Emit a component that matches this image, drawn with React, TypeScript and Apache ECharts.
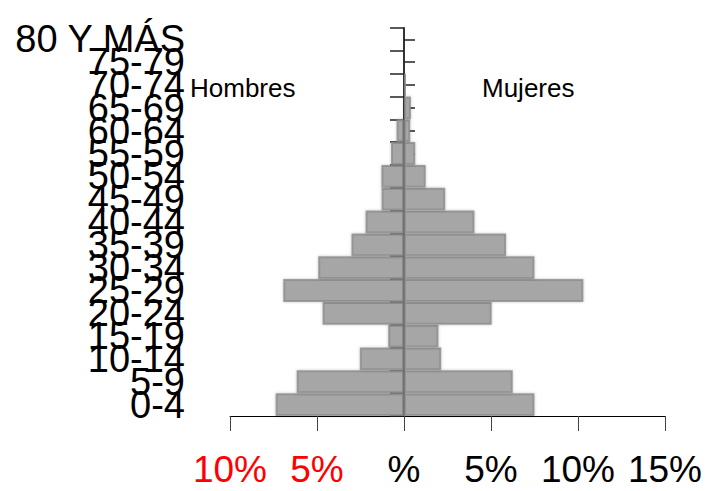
import React, { useEffect, useRef } from "react";
import * as echarts from "echarts";

const categories = [
  "0-4", "5-9", "10-14", "15-19", "20-24", "25-29", "30-34", "35-39", "40-44",
  "45-49", "50-54", "55-59", "60-64", "65-69", "70-74", "75-79", "80 Y MÁS",
];
const hombres = [7.38, 6.17, 2.54, 0.91, 4.68, 6.94, 4.93, 3.02, 2.21, 1.29, 1.3, 0.75, 0.43, 0.05, 0.05, 0.1, 0.03];
const mujeres = [7.5, 6.25, 2.14, 1.98, 5.04, 10.31, 7.5, 5.87, 4.05, 2.37, 1.25, 0.65, 0.36, 0.4, 0.14, 0.1, 0.05];
const xTicks = [-10, -5, 0, 5, 10, 15];

const FONT = "'Liberation Sans', Arial, sans-serif";

export default function App() {
  const ref = useRef<HTMLDivElement>(null);
  useEffect(() => {
    if (!ref.current) return;
    const chart = echarts.init(ref.current, undefined, { renderer: "svg" });
    const barStyle = {
      color: "#a6a6a6",
      borderColor: "rgba(140,140,140,0.8)",
      borderWidth: 2,
      shadowBlur: 3,
      shadowColor: "rgba(0,0,0,0.25)",
    };
    chart.setOption({
      animation: false,
      grid: {
        left: 230,
        right: 40,
        top: 28,
        bottom: 75,
        containLabel: false,
        outerBoundsMode: "none",
      },
      xAxis: {
        type: "value",
        min: xTicks[0],
        max: xTicks[xTicks.length - 1],
        interval: 5,
        splitLine: { show: false },
        axisLine: { show: true, onZero: false, lineStyle: { color: "#000", width: 1 } },
        axisTick: { show: true, length: 15, lineStyle: { color: "#444", width: 1 } },
        axisLabel: {
          margin: 35,
          fontFamily: FONT,
          fontSize: 37,
          color: "#000",
          showMinLabel: true,
          showMaxLabel: true,
          hideOverlap: false,
          formatter: (v: number) => (v < 0 ? `{r|${-v}%}` : v === 0 ? "%" : `${v}%`),
          rich: { r: { color: "#ff0000", fontFamily: FONT, fontSize: 37 } },
        },
      },
      yAxis: [
        {
          type: "category",
          data: categories,
          position: "left",
          axisLine: { show: false, onZero: false },
          axisTick: { show: false },
          axisLabel: {
            interval: 0,
            margin: 45,
            fontFamily: FONT,
            fontSize: 38,
            color: "#000",
          },
        },
        {
          type: "category",
          data: categories,
          position: "left",
          axisLine: { show: true, onZero: true, onZeroAxisIndex: 0, lineStyle: { color: "#333", width: 2 } },
          axisTick: { show: true, length: 14, interval: 0, lineStyle: { color: "#222", width: 1.5 } },
          axisLabel: { show: false },
        },
        {
          type: "category",
          data: categories,
          position: "right",
          axisLine: { show: false, onZero: true, onZeroAxisIndex: 0 },
          axisTick: { show: true, length: 11, interval: 0, alignWithLabel: true, lineStyle: { color: "#222", width: 1.5 } },
          axisLabel: { show: false },
        },
      ],
      series: [
        {
          name: "Hombres",
          type: "bar",
          stack: "pop",
          yAxisIndex: 0,
          barWidth: "100%",
          data: hombres.map((v) => -v),
          itemStyle: barStyle,
          z: 1,
        },
        {
          name: "Mujeres",
          type: "bar",
          stack: "pop",
          yAxisIndex: 0,
          barWidth: "100%",
          data: mujeres,
          itemStyle: barStyle,
          z: 1,
        },
      ],
      graphic: [
        {
          type: "text",
          left: 190,
          top: 75,
          style: { text: "Hombres", fontFamily: FONT, fontSize: 26, fill: "#000" },
          z: 10,
        },
        {
          type: "text",
          left: 482,
          top: 75,
          style: { text: "Mujeres", fontFamily: FONT, fontSize: 26, fill: "#000" },
          z: 10,
        },
      ],
    });
    return () => chart.dispose();
  }, []);
  return (
    <div
      ref={ref}
      style={{ position: "fixed", left: 0, top: 0, width: 705, height: 491, background: "#fff" }}
    />
  );
}
